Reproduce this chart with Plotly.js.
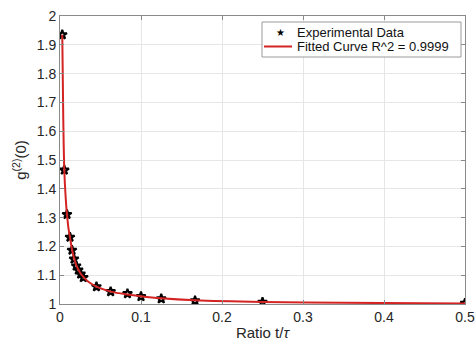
<!DOCTYPE html>
<html>
<head>
<meta charset="utf-8">
<script src="https://cdn.plot.ly/plotly-3.0.1.min.js"></script>
<style>html,body{margin:0;padding:0;background:#fff;}#chart{width:475px;height:342px;}</style>
</head>
<body>
<div id="chart"></div>
<script>
// Experimental data (ratio t/tau, g2(0))
const ratioX = [0.0028, 0.0053, 0.0086, 0.0123, 0.0148, 0.0173, 0.0200, 0.0226, 0.0255, 0.0288, 0.0450, 0.0625, 0.0833, 0.1000, 0.1250, 0.1667, 0.2500, 0.5000];
const g2Y    = [1.935, 1.465, 1.311, 1.232, 1.187, 1.156, 1.132, 1.118, 1.104, 1.092, 1.060, 1.043, 1.036, 1.026, 1.018, 1.011, 1.006, 1.003];
const fitX = [0.0028, 0.0040, 0.0053, 0.0070, 0.0086, 0.0105, 0.0123, 0.0148, 0.0173, 0.0200, 0.0226, 0.0255, 0.0288, 0.0350, 0.0450, 0.0625, 0.0833, 0.1000, 0.1250, 0.1667, 0.2500, 0.3500, 0.5000];
const fitY = [1.935, 1.650, 1.465, 1.370, 1.311, 1.262, 1.232, 1.190, 1.160, 1.136, 1.120, 1.106, 1.094, 1.077, 1.060, 1.043, 1.033, 1.027, 1.020, 1.013, 1.007, 1.004, 1.002];
const xTicks = [0, 0.1, 0.2, 0.3, 0.4, 0.5];
const xTickText = ['0', '0.1', '0.2', '0.3', '0.4', '0.5'];
const yTicks = [1, 1.1, 1.2, 1.3, 1.4, 1.5, 1.6, 1.7, 1.8, 1.9, 2];
const yTickText = ['1', '1.1', '1.2', '1.3', '1.4', '1.5', '1.6', '1.7', '1.8', '1.9', '2'];
const seriesNames = ['Experimental Data', 'Fitted Curve R^2 = 0.9999'];

const FONT = 'Liberation Sans, Arial, Helvetica, sans-serif';
const RED = '#d42323';

const traces = [
  {
    x: ratioX, y: g2Y, type: 'scatter', mode: 'markers', name: seriesNames[0], showlegend: false,
    marker: {symbol: 'star-open', size: 7, color: '#000', line: {color: '#000', width: 2}}
  },
  {
    x: fitX, y: fitY, type: 'scatter', mode: 'lines', name: seriesNames[1], showlegend: false,
    line: {color: RED, width: 2, shape: 'spline', smoothing: 0.8}
  }
];

const axisCommon = {
  showline: true, linecolor: '#8a8a8a', linewidth: 1, mirror: 'allticks',
  ticks: 'inside', ticklen: 4, tickcolor: '#8a8a8a',
  showgrid: true, gridcolor: '#e6e6e6', gridwidth: 1, zeroline: false,
  tickfont: {family: FONT, size: 14, color: '#262626'}
};

// Custom compact legend (MATLAB-style), paper coordinates
const plotL = 60, plotW = 405, plotB = 304, plotH = 288;
const px = v => (v - plotL) / plotW;
const py = v => (plotB - v) / plotH;

const layout = {
  width: 475, height: 342,
  margin: {l: 60, r: 10, t: 16, b: 38},
  paper_bgcolor: '#fff', plot_bgcolor: '#fff',
  showlegend: false,
  xaxis: Object.assign({}, axisCommon, {
    range: [0, 0.5], tickvals: xTicks, ticktext: xTickText,
    title: {text: 'Ratio t/<i>τ</i>', standoff: 3, font: {family: FONT, size: 15, color: '#262626'}}
  }),
  yaxis: Object.assign({}, axisCommon, {
    range: [1, 2], tickvals: yTicks, ticktext: yTickText,
    title: {text: 'g<sup>(2)</sup>(0)', standoff: 6, font: {family: FONT, size: 15, color: '#262626'}}
  }),
  shapes: [
    {type: 'rect', xref: 'paper', yref: 'paper', x0: px(262), x1: px(461), y0: py(57), y1: py(22),
     fillcolor: '#fff', line: {color: '#9a9a9a', width: 1}, layer: 'above'},
    {type: 'line', xref: 'paper', yref: 'paper', x0: px(264), x1: px(292), y0: py(46.5), y1: py(46.5),
     line: {color: RED, width: 2}, layer: 'above'}
  ],
  annotations: [
    {xref: 'paper', yref: 'paper', x: px(280), y: py(32), text: '★', showarrow: false,
     xanchor: 'center', yanchor: 'middle', font: {family: 'DejaVu Sans', size: 10, color: '#000'}},
    {xref: 'paper', yref: 'paper', x: px(295), y: py(32), text: seriesNames[0], showarrow: false,
     xanchor: 'left', yanchor: 'middle', font: {family: FONT, size: 13, color: '#111'}},
    {xref: 'paper', yref: 'paper', x: px(295), y: py(47), text: seriesNames[1], showarrow: false,
     xanchor: 'left', yanchor: 'middle', font: {family: FONT, size: 13, color: '#111'}}
  ]
};

Plotly.newPlot('chart', traces, layout, {staticPlot: true, displayModeBar: false});
</script>
</body>
</html>
